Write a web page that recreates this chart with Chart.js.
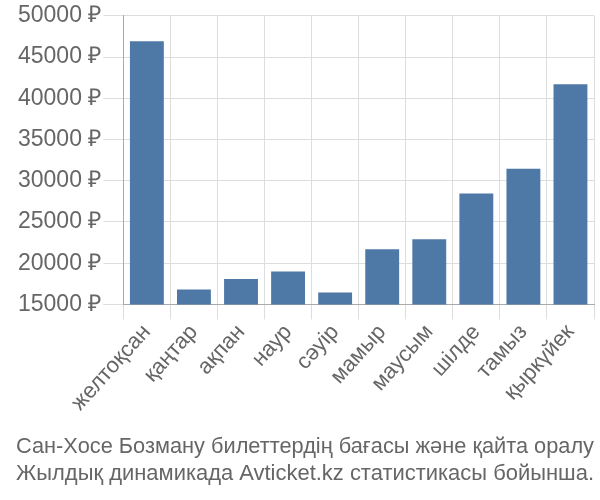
<!DOCTYPE html>
<html>
<head>
<meta charset="utf-8">
<script src="https://cdn.jsdelivr.net/npm/chart.js@4/dist/chart.umd.min.js"></script>
<style>
  html, body { margin: 0; padding: 0; background: #fff; }
  #wrap { width: 600px; height: 500px; }
</style>
</head>
<body>
<div id="wrap"><canvas id="chart"></canvas></div>
<script>
const months = ['желтоқсан', 'қаңтар', 'ақпан', 'наур', 'сәуір', 'мамыр', 'маусым', 'шілде', 'тамыз', 'қыркүйек'];
const prices = [46900, 16800, 18100, 19000, 16450, 21700, 22900, 28450, 31450, 41700];
const titleLines = [
    'Сан-Хосе Бозману билеттердің бағасы және қайта оралу',
    'Жылдық динамикада Avticket.kz статистикасы бойынша.',
];

const textColor = '#666';
const gridColor = '#dddddd';
const axisColor = '#aaaaaa';

new Chart('chart', {
    type: 'bar',
    data: {
        labels: months,
        datasets: [{
            data: prices,
            backgroundColor: '#4e79a7',
            borderWidth: 0,
        }],
    },
    options: {
        responsive: true,
        maintainAspectRatio: false,
        animation: false,
        layout: {
            padding: { top: 4, right: 6, left: 16, bottom: 0 },
        },
        scales: {
            x: {
                grid: {
                    color: gridColor,
                    tickLength: 15,
                    offset: true,
                },
                border: { color: axisColor },
                ticks: {
                    color: textColor,
                    font: { family: 'Liberation Sans', size: 22 },
                    minRotation: 48,
                    maxRotation: 48,
                    padding: 0,
                },
            },
            y: {
                min: 15000,
                max: 50000,
                grid: {
                    color: gridColor,
                    tickLength: 20,
                },
                border: { color: axisColor },
                ticks: {
                    stepSize: 5000,
                    color: textColor,
                    padding: 2,
                    font: { family: 'Liberation Sans', size: 23 },
                    callback: (value) => value + ' ₽',
                },
            },
        },
        plugins: {
            legend: { display: false },
            tooltip: { enabled: false },
            title: {
                display: true,
                position: 'bottom',
                text: titleLines,
                color: textColor,
                font: { family: 'Liberation Sans', size: 22.5, weight: 'normal', lineHeight: 1.2 },
                padding: { top: 17, bottom: 13 },
            },
        },
    },
});
</script>
</body>
</html>
